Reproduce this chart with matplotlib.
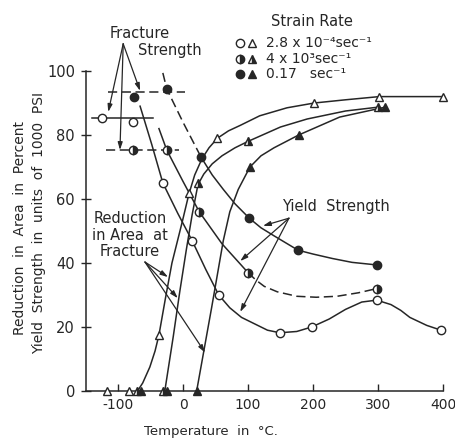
import matplotlib
matplotlib.use("Agg")
import matplotlib.pyplot as plt
from matplotlib.lines import Line2D

# --- measured points (temperature in deg C) ---
# reduction in area at fracture, triangles
ra_slow_T = [-117, -83, -37, 9, 53, 202, 302, 400]
ra_slow = [0, 0, 17.5, 62, 79, 90, 92, 92]
ra_mid_T = [-71, -31, 23, 100, 300]
ra_mid = [0, 0, 65, 78, 88.7]
ra_fast_T = [-64, -24, 21, 103, 178, 311]
ra_fast = [0, 0, 0, 70, 80, 88.7]

# yield strength, circles
ys_slow_T = [-31, 14, 55, 149, 198, 298, 397]
ys_slow = [65, 47, 30, 18, 20, 28.4, 19]
ys_mid_T = [-25, 25, 100, 298]
ys_mid = [75.3, 56, 37, 32]
ys_fast_T = [-25, 28, 102, 177, 298]
ys_fast = [94.4, 73, 54, 44, 39.4]

# fracture strength, circles + level lines
fs_slow_T = [-125, -77]
fs_slow = [85.3, 84]
fs_mid_T = [-77]
fs_mid = [75.3]
fs_fast_T = [-75]
fs_fast = [92]
fs_levels = [85.3, 75.3, 93.4]
fs_spans = [(-140, -46), (-118, -6), (-115, 3)]

# --- faired curves ---
ra_slow_cT = [-70, -62, -51, -43, -37, -27, -17, -1, 9, 18, 29, 40, 53, 70, 88,
              118, 160, 202, 250, 302, 400]
ra_slow_c = [0, 2.5, 7.5, 12.5, 17.5, 29, 40, 53, 61.5, 67.5, 72.5, 76, 79, 81.3, 83,
             86, 88.5, 90, 91, 92, 92]
ra_mid_cT = [-28, -15, -5, 5, 14, 23, 32, 45, 60, 80, 100, 150, 191, 250, 300]
ra_mid_c = [0, 17, 31, 44, 55, 64.5, 67.8, 71, 73.5, 76, 78, 82.5, 85, 87.5, 88.7]
ra_fast_cT = [21, 44, 62, 72, 85, 103, 120, 140, 178, 241, 311]
ra_fast_c = [0, 26, 47, 56, 63, 70, 73.5, 76, 80, 85.6, 88.7]

ys_slow_cT = [-66, -48, -31, -8, 14, 35, 55, 72, 90, 114, 130, 149, 175, 198, 225,
              250, 275, 298, 320, 335, 349, 375, 397]
ys_slow_c = [89, 77, 65, 55.5, 47, 38, 30, 26, 23, 20.6, 19, 18.2, 18.6, 20, 22.5,
             25.5, 27.8, 28.4, 27, 25.2, 23, 20.5, 19]
ys_mid_cT = [-37, -25, 0, 25, 60, 100]
ys_mid_c = [82, 75.3, 65.5, 56, 46, 37]
ys_mid_dT = [100, 112, 125, 145, 175, 205, 237, 270, 298]
ys_mid_d = [37, 34.7, 32.7, 31, 29.6, 29.3, 29.6, 30.7, 32]
ys_fast_dT = [-31, -25, 0, 28]
ys_fast_d = [99.4, 94.4, 84, 73]
ys_fast_cT = [28, 45, 62, 80, 102, 120, 140, 177, 200, 230, 260, 298]
ys_fast_c = [73, 67.5, 63, 58.5, 54, 51, 48.5, 44, 42.8, 41.4, 40.2, 39.4]

rate_labels = ["2.8 x 10⁻⁴sec⁻¹", "4 x 10³sec⁻¹", "0.17   sec⁻¹"]
rate_fills = ["open", "half", "full"]

plt.rcParams['font.family'] = ['DejaVu Sans']
plt.rcParams['axes.unicode_minus'] = False

INK = "#262626"
W, H = 455, 442


def fx(px):
    return px / W


def fy(py):
    return 1 - py / H


fig = plt.figure(figsize=(4.55, 4.42), dpi=100)
ax = fig.add_axes([85.5 / W, 1 - 391 / H, (443 - 85.5) / W, (391 - 71) / H])
ax.set_xlim(-150, 400)
ax.set_ylim(0, 100)


def curve(xs, ys, dashed=False):
    ax.plot(xs, ys, color=INK, lw=1.1, ls=(0, (6, 3)) if dashed else "-",
            clip_on=False, zorder=2)


def style(marker, fill):
    kw = dict(marker=marker, ls="none", ms=6 if marker == "o" else 5.5,
              mec=INK, mew=1.0)
    if fill == "open":
        kw.update(mfc="white")
    elif fill == "full":
        kw.update(mfc=INK)
    else:
        kw.update(mfc=INK, fillstyle="right", markerfacecoloralt="white")
    return kw


def marks(xs, ys, marker, fill):
    ax.plot(xs, ys, clip_on=False, zorder=3, **style(marker, fill))


curve(ra_slow_cT, ra_slow_c)
curve(ra_mid_cT, ra_mid_c)
curve(ra_fast_cT, ra_fast_c)
curve(ys_slow_cT, ys_slow_c)
curve(ys_mid_cT, ys_mid_c)
curve(ys_mid_dT, ys_mid_d, dashed=True)
curve(ys_fast_dT, ys_fast_d, dashed=True)
curve(ys_fast_cT, ys_fast_c)
for lvl, (a, b), dashed in zip(fs_levels, fs_spans, [False, True, True]):
    curve([a, b], [lvl, lvl], dashed=dashed)

marks(ra_slow_T, ra_slow, "^", "open")
marks(ra_mid_T, ra_mid, "^", "half")
marks(ra_fast_T, ra_fast, "^", "full")
marks(ys_slow_T, ys_slow, "o", "open")
marks(ys_mid_T, ys_mid, "o", "half")
marks(ys_fast_T, ys_fast, "o", "full")
marks(fs_slow_T, fs_slow, "o", "open")
marks(fs_mid_T, fs_mid, "o", "half")
marks(fs_fast_T, fs_fast, "o", "full")


def arrow(apex, end):
    ax.annotate("", xy=end, xytext=apex, annotation_clip=False,
                arrowprops=dict(arrowstyle="-|>,head_length=0.45,head_width=0.14",
                                lw=0.9, color=INK, shrinkA=0, shrinkB=0))


for end in [(-115, 87.2), (-97, 75.3), (-66, 93.8)]:
    arrow((-92, 108.5), end)
for end in [(123, 51.6), (88, 40.6), (88, 24.7)]:
    arrow((163, 54), end)
for end in [(-23, 35.6), (-8, 29), (34, 12)]:
    arrow((-58.5, 40.3), end)

for s in ["top", "right"]:
    ax.spines[s].set_visible(False)
for s in ["left", "bottom"]:
    ax.spines[s].set_linewidth(1.1)
    ax.spines[s].set_color(INK)
ax.set_xticks([-100, 0, 100, 200, 300, 400])
ax.set_yticks([0, 20, 40, 60, 80, 100])
ax.tick_params(axis="x", direction="in", length=5, width=1, colors=INK,
               labelsize=10, pad=5)
ax.tick_params(axis="y", direction="inout", length=7, width=1, colors=INK,
               labelsize=10.5, pad=4)

txt = dict(color=INK, fontsize=10.5, ha="center", va="center")
fig.text(fx(140), fy(34), "Fracture", **txt)
fig.text(fx(170), fy(51), "Strength", **txt)
fig.text(fx(336), fy(206), "Yield  Strength", **txt)
fig.text(fx(130), fy(235), "Reduction\nin Area  at\nFracture", linespacing=1.1, **txt)
fig.text(fx(211), fy(432), "Temperature  in  °C.", color=INK, fontsize=9.5,
         ha="center", va="center")
fig.text(fx(20), fy(228), "Reduction  in  Area  in  Percent", rotation=90,
         color=INK, fontsize=10, ha="center", va="center")
fig.text(fx(39), fy(223), "Yield  Strength  in  units  of  1000  PSI", rotation=90,
         color=INK, fontsize=10, ha="center", va="center")

# strain-rate key, laid out by hand like the original lettering
fig.text(fx(312), fy(21), "Strain Rate", **txt)
for row_py, label, fill in zip([43, 59, 74], rate_labels, rate_fills):
    for key_px, marker in [(240, "o"), (252, "^")]:
        fig.add_artist(Line2D([fx(key_px)], [fy(row_py)], transform=fig.transFigure,
                              **style(marker, fill)))
    fig.text(fx(266), fy(row_py), label, color=INK, fontsize=10,
             ha="left", va="center")

fig.savefig("out.png", dpi=100, facecolor="white")
